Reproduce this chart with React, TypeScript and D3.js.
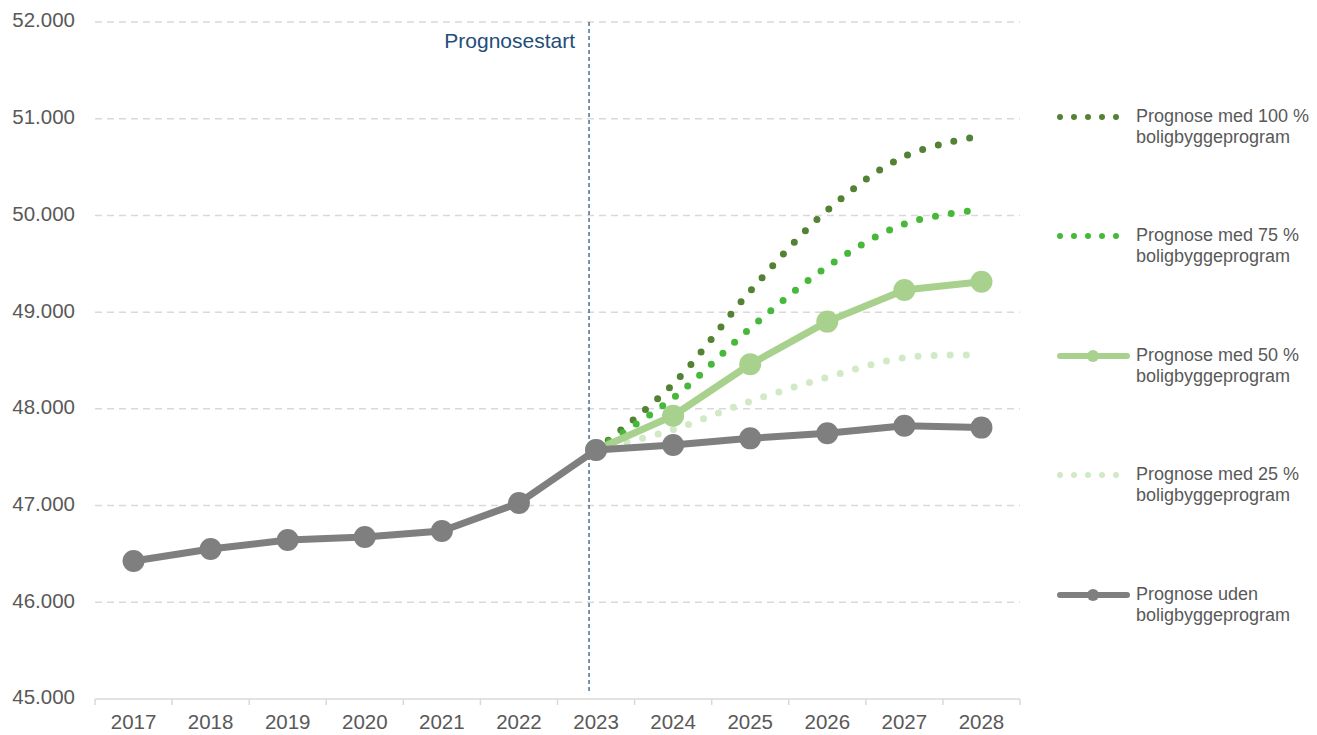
import React from 'react'
import * as d3 from 'd3'

const years = ['2017', '2018', '2019', '2020', '2021', '2022', '2023', '2024', '2025', '2026', '2027', '2028']
const yTicks = [45000, 46000, 47000, 48000, 49000, 50000, 51000, 52000]

// Prognose uden boligbyggeprogram (historik + prognose)
const uden = [46427, 46551, 46644, 46675, 46737, 47027, 47575, 47626, 47695, 47747, 47826, 47806]
// prognoser fra 2023
const med50 = [null, null, null, null, null, null, 47575, 47929, 48461, 48902, 49229, 49315]
const med100 = [null, null, null, null, null, null, 47575, 48257, 49216, 50053, 50611, 50825]
const med75 = [null, null, null, null, null, null, 47575, 48112, 48833, 49470, 49912, 50060]
const med25 = [null, null, null, null, null, null, 47575, 47785, 48078, 48326, 48529, 48557]

const legendLabels = [
  ['Prognose med 100 %', 'boligbyggeprogram'],
  ['Prognose med 75 %', 'boligbyggeprogram'],
  ['Prognose med 50 %', 'boligbyggeprogram'],
  ['Prognose med 25 %', 'boligbyggeprogram'],
  ['Prognose uden', 'boligbyggeprogram'],
]

const width = 1317,
      height = 735
const margin = { left: 95, top: 22, right: 297, bottom: 36 }

const c100 = '#548235',
      c75 = '#46b83a',
      c50 = '#a9d18e',
      c25 = '#d2e9c6',
      cGrey = '#7f7f7f',
      cText = '#595959',
      cGrid = '#d9d9d9',
      cStart = '#1f4e79'

const font = 'Liberation Sans, Arial, sans-serif'

function App() {
  const x = d3.scaleBand(years, [margin.left, width - margin.right])
  const y = d3.scaleLinear([45000, 52000], [height - margin.bottom, margin.top])
  const cx = (i: number) => (x(years[i]) as number) + x.bandwidth() / 2

  const toPts = (arr: (number | null)[]) =>
    arr.map((v, i) => (v == null ? null : [cx(i), y(v)] as [number, number]))
       .filter(p => p != null) as [number, number][]

  const straight = d3.line()
  const smooth = d3.line().curve(d3.curveCatmullRom.alpha(0.5))

  const dotted = [
    { data: med100, color: c100 },
    { data: med75, color: c75 },
    { data: med25, color: c25 },
  ]

  const startX = cx(6) - 7
  const legendY = [117, 236, 356, 475, 595]
  const legendColors = [c100, c75, c50, c25, cGrey]

  return (
    <svg width={width} height={height} style={{ position: 'absolute', left: 0, top: 0, background: '#fff' }}
         fontFamily={font}>
      {/* gridlines */}
      {yTicks.slice(1).map(t => (
        <line key={t} x1={margin.left} x2={width - margin.right} y1={y(t)} y2={y(t)}
              stroke={cGrid} strokeWidth={1.5} strokeDasharray="7 5" />
      ))}
      {/* x axis */}
      <line x1={margin.left} x2={width - margin.right} y1={y(45000)} y2={y(45000)} stroke={cGrid} strokeWidth={1.5} />
      {years.map(yr => (
        <line key={'t' + yr} x1={x(yr)} x2={x(yr)} y1={y(45000)} y2={y(45000) + 6} stroke={cGrid} strokeWidth={1.5} />
      ))}
      <line x1={width - margin.right} x2={width - margin.right} y1={y(45000)} y2={y(45000) + 6} stroke={cGrid} strokeWidth={1.5} />
      {years.map((yr, i) => (
        <text key={'l' + yr} x={cx(i)} y={y(45000) + 25} fontSize={20.5} fill={cText}
              textAnchor="middle" dominantBaseline="middle">{yr}</text>
      ))}
      {/* y labels */}
      {yTicks.map(t => (
        <text key={'y' + t} x={margin.left - 20} y={y(t)} fontSize={20.5} fill={cText}
              textAnchor="end" dominantBaseline="middle">{d3.format(',')(t).replace(',', '.')}</text>
      ))}

      {/* prognosestart */}
      <line x1={startX} x2={startX} y1={margin.top} y2={y(45000) - 6} stroke={cStart}
            strokeWidth={1.2} strokeDasharray="4 3" />
      <text x={startX - 14} y={42} fontSize={21} fill={cStart} textAnchor="end"
            dominantBaseline="middle">Prognosestart</text>

      {/* dotted scenario lines */}
      {dotted.map((s, k) => (
        <path key={'d' + k} d={smooth(toPts(s.data)) || ''} fill="none" stroke={s.color}
              strokeWidth={7} strokeLinecap="round" strokeDasharray="0 16" />
      ))}

      {/* 50% line */}
      <path d={straight(toPts(med50)) || ''} fill="none" stroke={c50} strokeWidth={7} strokeLinejoin="round" />
      {toPts(med50).map((p, i) => (
        <circle key={'m50' + i} cx={p[0]} cy={p[1]} r={11} fill={c50} />
      ))}

      {/* uden line */}
      <path d={straight(toPts(uden)) || ''} fill="none" stroke={cGrey} strokeWidth={7} strokeLinejoin="round" />
      {toPts(uden).map((p, i) => (
        <circle key={'mu' + i} cx={p[0]} cy={p[1]} r={11} fill={cGrey} />
      ))}

      {/* legend */}
      {legendLabels.map((lbl, i) => {
        const ly = legendY[i]
        const col = legendColors[i]
        const solid = i === 2 || i === 4
        return (
          <g key={'lg' + i}>
            {solid ? (
              <>
                <line x1={1060} x2={1127} y1={ly} y2={ly} stroke={col} strokeWidth={6} strokeLinecap="round" />
                <circle cx={1093} cy={ly} r={6} fill={col} />
              </>
            ) : (
              <line x1={1060} x2={1117} y1={ly} y2={ly} stroke={col} strokeWidth={6}
                    strokeLinecap="round" strokeDasharray="0 14" />
            )}
            <text x={1136} y={ly} fontSize={18} fill={cText} dominantBaseline="middle">{lbl[0]}</text>
            <text x={1136} y={ly + 21} fontSize={18} fill={cText} dominantBaseline="middle">{lbl[1]}</text>
          </g>
        )
      })}
    </svg>
  )
}

export default App
